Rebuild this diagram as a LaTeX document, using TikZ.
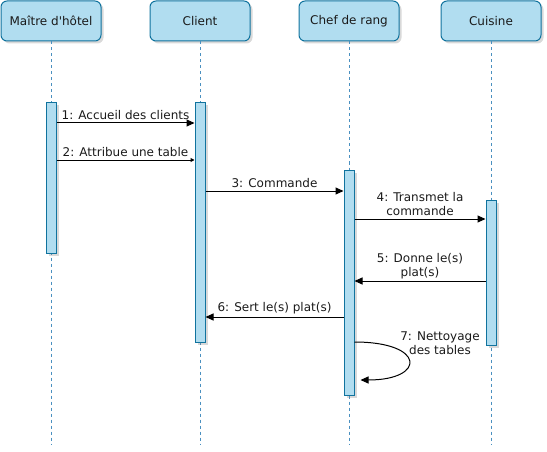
\documentclass[tikz,border=0pt]{standalone}
\usepackage{fontspec}
\newfontfamily\seqfont{DejaVu Sans}
\usetikzlibrary{arrows.meta,shadows}
\definecolor{seqFill}{HTML}{B1DDF0}
\definecolor{seqDraw}{HTML}{10739E}
\definecolor{seqLine}{HTML}{4A90C0}
\definecolor{seqText}{HTML}{1A1A1A}

\begin{document}
\begin{tikzpicture}[x=1pt,y=-1pt,font=\seqfont\fontsize{12}{14}\selectfont,text=seqText]
    \pgfmathsetmacro{\w}{100}
    \pgfmathsetmacro{\h}{40}
    \pgfmathsetmacro{\bottom}{445}
    \tikzset{
        head/.style={draw=seqDraw,fill=seqFill,line width=1pt,rounded corners=6pt,minimum width=\w,minimum height=\h,
            drop shadow={shadow xshift=2.5pt,shadow yshift=-2.5pt,opacity=0.3}},
        bar/.style={draw=seqDraw,fill=seqFill,line width=1pt,minimum width=10,anchor=north,inner sep=0pt,
            drop shadow={shadow xshift=2.5pt,shadow yshift=-2.5pt,opacity=0.3}},
        lifeline/.style={seqLine,line width=1pt,dash pattern=on 3pt off 3pt},
        msg/.style={line width=1pt,-{Triangle[length=8pt,width=7pt]}},
        smallmsg/.style={line width=1pt,-{Triangle[length=4pt,width=4pt]}},
        lbl/.style={align=center,inner sep=1pt}
    }
    \useasboundingbox (0,0) rectangle (547,452);
    % heads and lifelines
    \foreach \name/\x/\txt in {maitre/51/{Maître d'hôtel},client/200/Client,chef/349/{Chef de rang},cuisine/491/Cuisine}{
        \node[head] (\name) at (\x,21) {\txt};
        \draw[lifeline] (\name.south) -- (\name.south |- 0,\bottom);
        }
    % activation bars
    \foreach \name/\top/\bot in {maitre/102/253,client/102/342,chef/170/395,cuisine/200/345}{
        \node[bar,minimum height={\bot-\top}] (b\name) at (\name.south |- 0,\top) {};
        }
    % messages
    \draw[msg] (bmaitre.east |- 0,123) -- (bclient.west |- 0,123)
        node[lbl,midway,above=2pt] {1: Accueil des clients};
    \draw[smallmsg] (bmaitre.east |- 0,160) -- (bclient.west |- 0,160)
        node[lbl,midway,above=2pt] {2: Attribue une table};
    \draw[msg] (bclient.east |- 0,191) -- (bchef.west |- 0,191)
        node[lbl,midway,above=2pt] {3: Commande};
    \draw[msg] (bchef.east |- 0,219) -- (bcuisine.west |- 0,219)
        node[lbl,midway,above=2pt] {4: Transmet la\\commande};
    \draw[msg] (bcuisine.west |- 0,281) -- (bchef.east |- 0,281)
        node[lbl,midway,above=1pt] {5: Donne le(s)\\plat(s)};
    \draw[msg] (bchef.west |- 0,317) -- (bclient.east |- 0,317)
        node[lbl,midway,above=2pt] {6: Sert le(s) plat(s)};
    \coordinate (loopEnd) at ([xshift=6pt]bchef.east |- 0,380);
    \draw[msg] (bchef.east |- 0,342) .. controls (426,342) and (426,380) .. (loopEnd);
    \node[lbl] (loopLbl) at (440,343) {7: Nettoyage\\des tables};
\end{tikzpicture}
\end{document}
